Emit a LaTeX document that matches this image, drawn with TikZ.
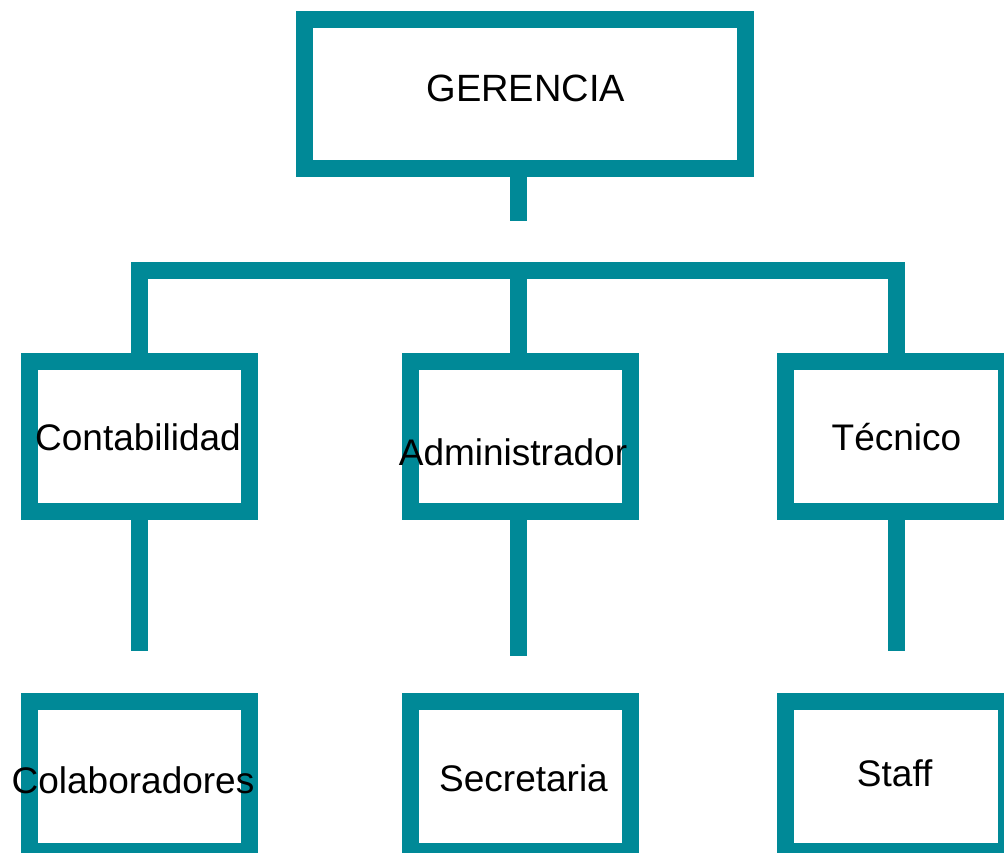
\documentclass[tikz,border=0pt]{standalone}
\usepackage{fontspec}
\setmainfont{Liberation Sans}
\definecolor{orgteal}{RGB}{0,137,151}
\begin{document}
\begin{tikzpicture}[x=1pt,y=-1pt,
  orgbox/.style={draw=orgteal, line width=17pt, rectangle, minimum width=220.5pt, minimum height=150pt, inner sep=0pt, fill=white},
  topbox/.style={orgbox, minimum width=441pt, minimum height=149.5pt},
  conn/.style={draw=orgteal, line width=17pt, line join=miter},
  lbl/.style={font=\fontsize{37}{44}\selectfont, inner sep=0pt, anchor=base, text=black}]
\useasboundingbox (0,0) rectangle (1004,853);
\clip (0,0) rectangle (1004,853);
% boxes
\node[topbox] (b0) at (525,94.25) {};
\node[orgbox] (b1) at (139.5,436.7) {};
\node[orgbox] (b2) at (520.7,436.7) {};
\node[orgbox] (b3) at (896,436.7) {};
\node[orgbox, minimum height=149.5pt] (b4) at (139.5,776.5) {};
\node[orgbox, minimum height=149.5pt] (b5) at (520.7,776.5) {};
\node[orgbox, minimum height=149.5pt] (b6) at (896,776.5) {};
% connector points
\coordinate (s0) at (518,220.7);
\coordinate (bar) at (518,270.5);
\coordinate (e1) at (139.5,651);
\coordinate (e2) at (518,655.7);
\coordinate (e3) at (896,651);
% connectors
\draw[conn] (s0 |- b0.south) -- (s0);
\draw[conn] (b1.north) |- (bar) -| (b3.north);
\draw[conn] (bar) -- (bar |- b2.north);
\draw[conn] (b1.south) -- (e1);
\draw[conn] (e2 |- b2.south) -- (e2);
\draw[conn] (b3.south) -- (e3);
% texts
\node[lbl, font=\fontsize{38}{45}\selectfont] (t0) at (525.8,101.7) {GERENCIA};
\node[lbl] (t1) at (138,450) {Contabilidad};
\node[lbl] (t2) at (513,465) {Administrador};
\node[lbl] (t3) at (896.5,450) {Técnico};
\node[lbl] (t4) at (133,793.3) {Colaboradores};
\node[lbl] (t5) at (523.5,791.7) {Secretaria};
\node[lbl] (t6) at (894.7,786) {Staff};
\end{tikzpicture}
\end{document}
